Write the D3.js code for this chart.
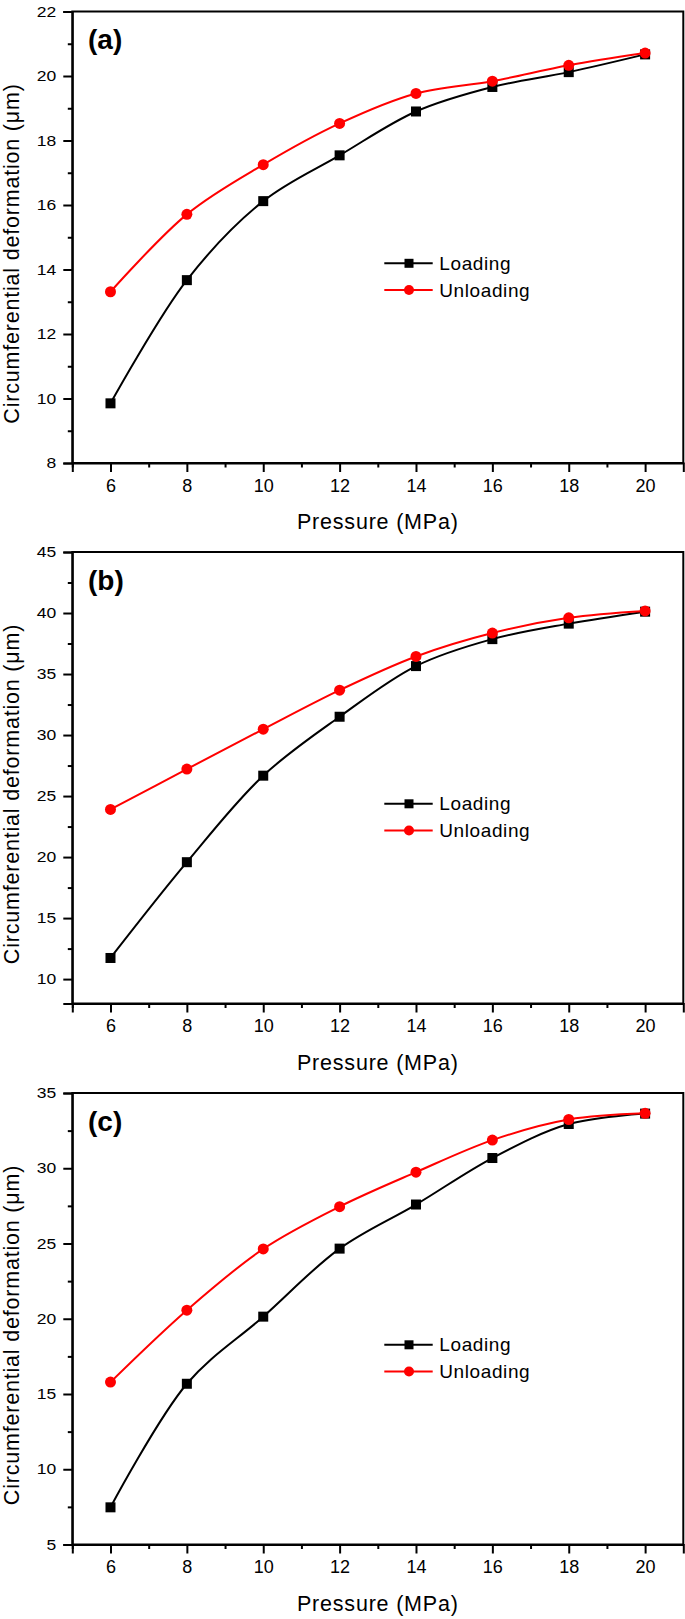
<!DOCTYPE html>
<html>
<head>
<meta charset="utf-8">
<script src="https://cdn.jsdelivr.net/npm/d3@7"></script>
<style>
  html, body { margin: 0; padding: 0; background: #fff; }
  svg { display: block; }
  text { font-family: Arial, "Liberation Sans", sans-serif; fill: #000; }
</style>
</head>
<body>
<svg id="chart" width="685" height="1619"></svg>
<script>
// ---- Data ----
const pressure = [6, 8, 10, 12, 14, 16, 18, 20];
const xTicks = [6, 8, 10, 12, 14, 16, 18, 20];
const xMinorTicks = [5, 7, 9, 11, 13, 15, 17, 19];
const seriesNames = ["Loading", "Unloading"];

const loadingA   = [9.85, 13.67, 16.12, 17.54, 18.90, 19.66, 20.12, 20.67];
const unloadingA = [13.31, 15.71, 17.25, 18.53, 19.46, 19.84, 20.33, 20.71];
const yTicksA = [8, 10, 12, 14, 16, 18, 20, 22];
const yMinorA = [9, 11, 13, 15, 17, 19, 21];

const loadingB   = [11.73, 19.58, 26.67, 31.50, 35.65, 37.86, 39.13, 40.11];
const unloadingB = [23.90, 27.21, 30.48, 33.68, 36.44, 38.36, 39.61, 40.17];
const yTicksB = [10, 15, 20, 25, 30, 35, 40, 45];
const yMinorB = [12.5, 17.5, 22.5, 27.5, 32.5, 37.5, 42.5];

const loadingC   = [7.47, 15.68, 20.14, 24.66, 27.59, 30.68, 32.94, 33.63];
const unloadingC = [15.79, 20.57, 24.64, 27.45, 29.74, 31.87, 33.24, 33.65];
const yTicksC = [5, 10, 15, 20, 25, 30, 35];
const yMinorC = [7.5, 12.5, 17.5, 22.5, 27.5, 32.5];

const panels = [
  { label: "(a)", top: 11.5, yDomain: [8, 22], ticks: yTicksA, minor: yMinorA, loading: loadingA, unloading: unloadingA },
  { label: "(b)", top: 552,  yDomain: [8, 45], ticks: yTicksB, minor: yMinorB, loading: loadingB, unloading: unloadingB },
  { label: "(c)", top: 1093, yDomain: [5, 35], ticks: yTicksC, minor: yMinorC, loading: loadingC, unloading: unloadingC }
];

// ---- Layout ----
const left = 72.3, right = 683.3, plotH = 451.5;
const colors = { Loading: "#000000", Unloading: "#ff0000" };

const svg = d3.select("#chart");
const x = d3.scaleLinear().domain([5, 21]).range([left, right]);

panels.forEach(p => {
  const g = svg.append("g").attr("transform", `translate(0,${p.top})`);
  const y = d3.scaleLinear().domain(p.yDomain).range([plotH, 0]);

  // frame
  g.append("rect").attr("x", left).attr("y", 0).attr("width", right - left).attr("height", plotH)
    .attr("fill", "none").attr("stroke", "#000").attr("stroke-width", 2);

  // x axis
  const xAxis = g.append("g").attr("transform", `translate(0,${plotH})`)
    .call(d3.axisBottom(x).tickValues(xTicks).tickSize(9).tickPadding(7).tickFormat(d3.format("d")));
  xAxis.select(".domain").attr("stroke-width", 2);
  xAxis.selectAll(".tick line").attr("stroke-width", 2);
  xAxis.selectAll("text").attr("font-size", 18).style("font-family", "Arial, 'Liberation Sans', sans-serif");
  g.append("g").attr("transform", `translate(0,${plotH})`)
    .call(d3.axisBottom(x).tickValues(xMinorTicks).tickSize(4.5).tickFormat(""))
    .call(s => s.select(".domain").remove())
    .selectAll(".tick line").attr("stroke-width", 2);

  // y axis
  const yAxis = g.append("g").attr("transform", `translate(${left},0)`)
    .call(d3.axisLeft(y).tickValues(p.ticks).tickSize(9).tickPadding(7).tickFormat(d3.format("d")));
  yAxis.select(".domain").attr("stroke-width", 2);
  yAxis.selectAll(".tick line").attr("stroke-width", 2);
  yAxis.selectAll("text").attr("font-size", 17.5).attr("transform", "scale(1,0.82)")
    .style("font-family", "Arial, 'Liberation Sans', sans-serif");
  g.append("g").attr("transform", `translate(${left},0)`)
    .call(d3.axisLeft(y).tickValues(p.minor).tickSize(4.5).tickFormat(""))
    .call(s => s.select(".domain").remove())
    .selectAll(".tick line").attr("stroke-width", 2);

  // titles
  g.append("text").attr("x", (left + right) / 2).attr("y", 517.8)
    .attr("text-anchor", "middle").attr("font-size", 21.5).attr("letter-spacing", 0.8)
    .text("Pressure (MPa)");
  g.append("text").attr("transform", `translate(18.5,242) rotate(-90)`)
    .attr("text-anchor", "middle").attr("font-size", 21.5).attr("letter-spacing", 0.8)
    .text("Circumferential deformation (μm)");

  // panel label
  g.append("text").attr("x", 88).attr("y", 37.5).attr("font-size", 28).attr("font-weight", "bold")
    .text(p.label);

  // lines
  const line = d3.line().x(d => x(d[0])).y(d => y(d[1])).curve(d3.curveCatmullRom.alpha(0.5));
  const series = [
    { name: "Loading", values: p.loading },
    { name: "Unloading", values: p.unloading }
  ];
  series.forEach(s => {
    const pts = pressure.map((v, i) => [v, s.values[i]]);
    g.append("path").datum(pts).attr("d", line).attr("fill", "none")
      .attr("stroke", colors[s.name]).attr("stroke-width", 2);
    if (s.name === "Loading") {
      g.selectAll(null).data(pts).enter().append("rect")
        .attr("x", d => x(d[0]) - 5).attr("y", d => y(d[1]) - 5)
        .attr("width", 10).attr("height", 10).attr("fill", colors[s.name]);
    } else {
      g.selectAll(null).data(pts).enter().append("circle")
        .attr("cx", d => x(d[0])).attr("cy", d => y(d[1])).attr("r", 5.5)
        .attr("fill", colors[s.name]);
    }
  });

  // legend
  const lg = g.append("g");
  seriesNames.forEach((name, i) => {
    const ly = 251.8 + i * 26.7;
    lg.append("line").attr("x1", 384.3).attr("x2", 432.7).attr("y1", ly).attr("y2", ly)
      .attr("stroke", colors[name]).attr("stroke-width", 2);
    if (name === "Loading") {
      lg.append("rect").attr("x", 409 - 4.5).attr("y", ly - 4.5).attr("width", 9).attr("height", 9)
        .attr("fill", colors[name]);
    } else {
      lg.append("circle").attr("cx", 409).attr("cy", ly).attr("r", 5).attr("fill", colors[name]);
    }
    lg.append("text").attr("x", 439.3).attr("y", ly).attr("dy", "0.35em")
      .attr("font-size", 19).attr("letter-spacing", 0.6).text(name);
  });
});
</script>
</body>
</html>
